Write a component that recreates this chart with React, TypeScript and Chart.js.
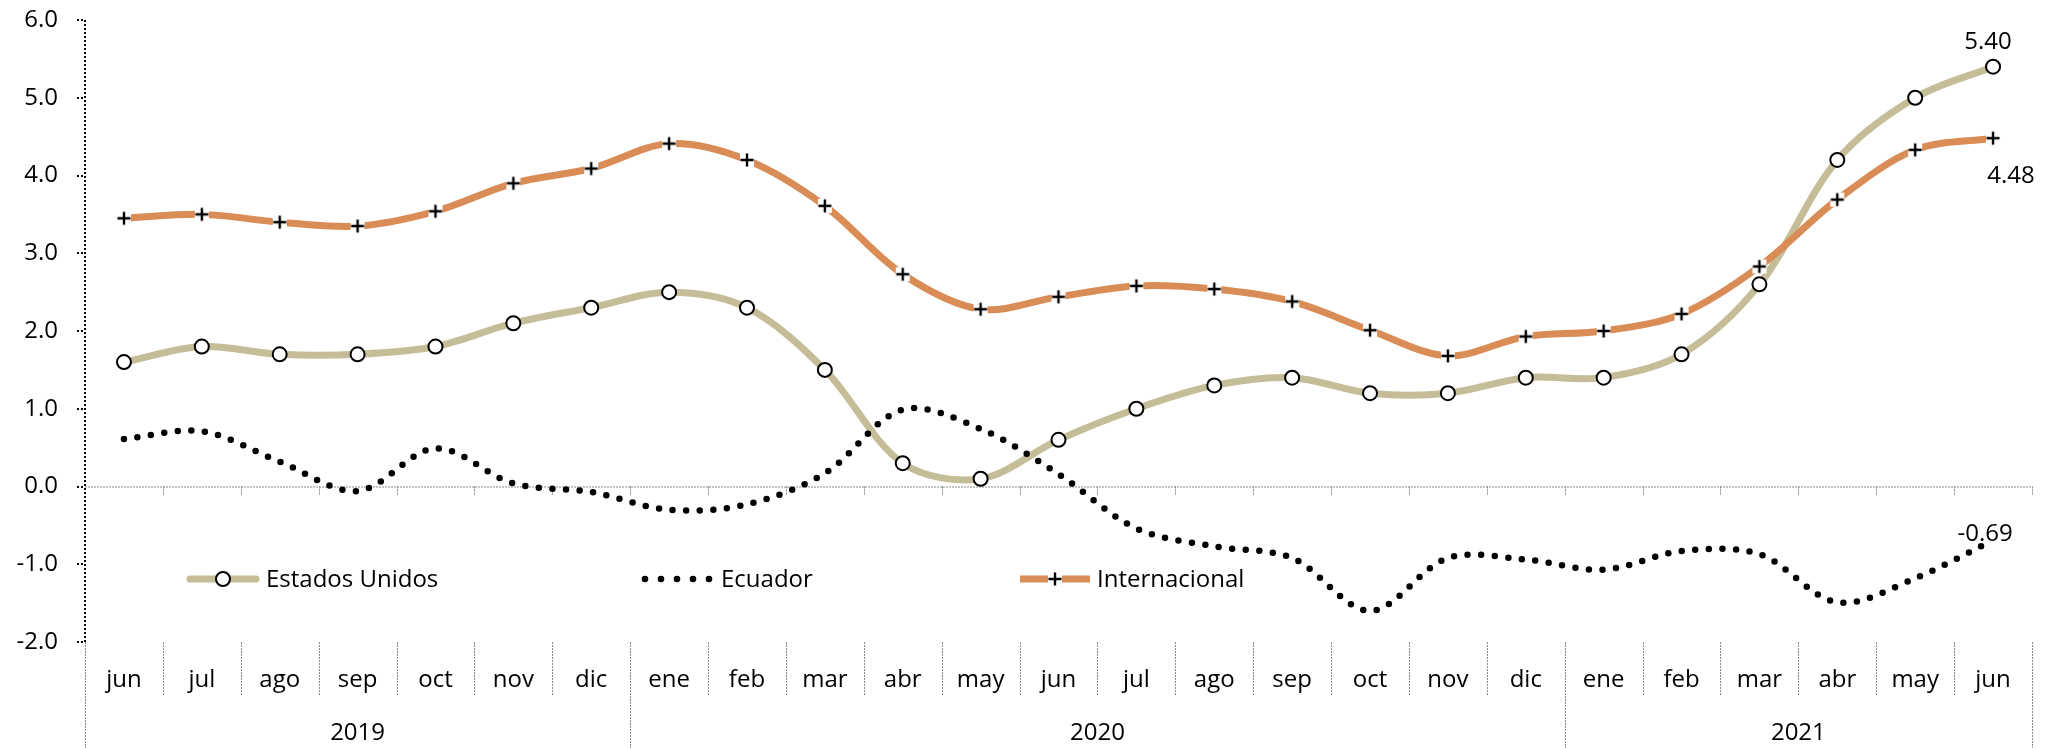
import React, { useEffect, useRef } from 'react';
import { Chart, registerables } from 'chart.js';

Chart.register(...registerables);

// ---- data ----
const months = ['jun', 'jul', 'ago', 'sep', 'oct', 'nov', 'dic', 'ene', 'feb', 'mar', 'abr', 'may', 'jun', 'jul', 'ago', 'sep', 'oct', 'nov', 'dic', 'ene', 'feb', 'mar', 'abr', 'may', 'jun'];
const yearLabels = ['2019', '2020', '2021'];
const yearStarts = [0, 7, 19];
const yearEnds = [7, 19, 25];

const usValues = [1.6, 1.8, 1.7, 1.7, 1.8, 2.1, 2.3, 2.5, 2.3, 1.5, 0.3, 0.1, 0.6, 1.0, 1.3, 1.4, 1.2, 1.2, 1.4, 1.4, 1.7, 2.6, 4.2, 5.0, 5.4];
const ecuadorValues = [0.61, 0.71, 0.32, -0.06, 0.49, 0.04, -0.07, -0.3, -0.23, 0.17, 0.99, 0.74, 0.16, -0.54, -0.77, -0.92, -1.6, -0.92, -0.94, -1.07, -0.83, -0.87, -1.49, -1.18, -0.69];
const intlValues = [3.45, 3.5, 3.4, 3.35, 3.54, 3.9, 4.09, 4.41, 4.2, 3.61, 2.73, 2.28, 2.44, 2.58, 2.54, 2.38, 2.01, 1.68, 1.93, 2.0, 2.22, 2.83, 3.69, 4.33, 4.48];

const seriesNames = ['Estados Unidos', 'Ecuador', 'Internacional'];
const endLabels = ['5.40', '-0.69', '4.48'];

const yMin = -2;
const yMax = 6;
const yStep = 1;

// ---- styles ----
const FONT = "'Open Sans', sans-serif";
const FONT_SIZE = 24;
const US_COLOR = '#C4BD97';
const INTL_COLOR = '#D98C56';
const GRID_GRAY = '#8a8a8a';
const PLOT_TOP = 20;

function makeCross(): HTMLCanvasElement {
  const c = document.createElement('canvas');
  c.width = 16;
  c.height = 16;
  const g = c.getContext('2d')!;
  g.fillStyle = '#ffffff';
  g.fillRect(1, 1, 14, 14);
  g.strokeStyle = '#000000';
  g.lineWidth = 2.4;
  g.beginPath();
  g.moveTo(8, 1.5);
  g.lineTo(8, 14.5);
  g.moveTo(1.5, 8);
  g.lineTo(14.5, 8);
  g.stroke();
  return c;
}

function seg(ctx: CanvasRenderingContext2D, x1: number, y1: number, x2: number, y2: number) {
  ctx.beginPath();
  ctx.moveTo(x1, y1);
  ctx.lineTo(x2, y2);
  ctx.stroke();
}

export default function App() {
  const ref = useRef<HTMLCanvasElement | null>(null);

  useEffect(() => {
    if (!ref.current) return;
    const cross = makeCross();

    const framePlugin = {
      id: 'frame',
      beforeDatasetsDraw(chart: any) {
        const { ctx, chartArea: a, scales } = chart;
        const x = scales.x;
        const y = scales.y;
        const n = months.length;
        const step = x.getPixelForValue(1) - x.getPixelForValue(0);
        const y0 = y.getPixelForValue(0);
        const H = chart.height;
        ctx.save();
        // zero line
        ctx.strokeStyle = GRID_GRAY;
        ctx.lineWidth = 1;
        ctx.setLineDash([2, 1]);
        seg(ctx, a.left, y0 + 0.5, a.right, y0 + 0.5);
        for (let k = 1; k <= n; k++) {
          const bx = Math.round(x.getPixelForValue(k) - step / 2) + 0.5;
          seg(ctx, bx, y0, bx, y0 + 8);
        }
        // category separators
        for (let k = 0; k <= n; k++) {
          const bx = Math.round(x.getPixelForValue(k) - step / 2) + 0.5;
          const isYear = yearStarts.includes(k) || k === n;
          seg(ctx, bx, a.bottom, bx, isYear ? H : a.bottom + 53);
        }
        // y axis
        ctx.strokeStyle = '#000000';
        ctx.lineWidth = 2;
        ctx.setLineDash([2, 2]);
        seg(ctx, a.left, a.top, a.left, a.bottom);
        for (let v = yMin; v <= yMax; v += yStep) {
          const yy = Math.round(y.getPixelForValue(v));
          seg(ctx, a.left - 8, yy, a.left, yy);
        }
        ctx.restore();
      },
      afterDraw(chart: any) {
        const { ctx, chartArea: a, scales } = chart;
        const x = scales.x;
        const y = scales.y;
        ctx.save();
        ctx.fillStyle = '#000000';
        ctx.font = `${FONT_SIZE}px ${FONT}`;
        ctx.textAlign = 'center';
        ctx.textBaseline = 'alphabetic';
        months.forEach((m, i) => {
          ctx.fillText(m, x.getPixelForValue(i), a.bottom + 45);
        });
        yearLabels.forEach((lab, i) => {
          const cx = (x.getPixelForValue(yearStarts[i]) + x.getPixelForValue(yearEnds[i] - 1)) / 2;
          ctx.fillText(lab, cx, a.bottom + 98);
        });

        // end labels
        const last = months.length - 1;
        const px = x.getPixelForValue(last);
        ctx.fillText(endLabels[0], px - 5, y.getPixelForValue(usValues[last]) - 18);
        ctx.fillText(endLabels[1], px - 8, y.getPixelForValue(ecuadorValues[last]) + 1);
        ctx.fillText(endLabels[2], px + 18, y.getPixelForValue(intlValues[last]) + 45);

        // legend
        const ly = 579;
        ctx.textAlign = 'left';
        ctx.lineCap = 'round';
        ctx.strokeStyle = US_COLOR;
        ctx.lineWidth = 7;
        seg(ctx, 190, ly, 256, ly);
        ctx.beginPath();
        ctx.arc(223, ly, 7, 0, Math.PI * 2);
        ctx.fillStyle = '#ffffff';
        ctx.fill();
        ctx.lineWidth = 2;
        ctx.strokeStyle = '#000000';
        ctx.stroke();
        ctx.fillStyle = '#000000';
        ctx.fillText(seriesNames[0], 266, ly + 8);
        for (let i = 0; i < 5; i++) {
          ctx.beginPath();
          ctx.arc(645 + i * 16, ly, 3.3, 0, Math.PI * 2);
          ctx.fill();
        }
        ctx.fillText(seriesNames[1], 721, ly + 8);
        ctx.lineCap = 'butt';
        ctx.strokeStyle = INTL_COLOR;
        ctx.lineWidth = 7;
        seg(ctx, 1020, ly, 1090, ly);
        ctx.drawImage(cross, 1055 - 8, ly - 8);
        ctx.fillText(seriesNames[2], 1097, ly + 8);
        ctx.restore();
      },
    };

    const chart = new Chart(ref.current, {
      type: 'line',
      data: {
        labels: months,
        datasets: [
          {
            label: seriesNames[0],
            data: usValues,
            borderColor: US_COLOR,
            borderWidth: 7,
            tension: 0.33,
            pointStyle: 'circle',
            pointRadius: 7,
            pointBorderWidth: 2,
            pointBorderColor: '#000000',
            pointBackgroundColor: '#ffffff',
            order: 3,
          },
          {
            label: seriesNames[1],
            data: ecuadorValues,
            borderColor: '#000000',
            borderWidth: 6.5,
            borderDash: [0, 13.6],
            borderCapStyle: 'round',
            tension: 0.33,
            pointRadius: 0,
            order: 2,
          },
          {
            label: seriesNames[2],
            data: intlValues,
            borderColor: INTL_COLOR,
            borderWidth: 7,
            tension: 0.33,
            pointStyle: cross as any,
            pointRadius: 8,
            order: 1,
          },
        ],
      },
      options: {
        responsive: false,
        animation: false,
        layout: { padding: { left: 0, right: 21, top: 0, bottom: 106 } },
        plugins: {
          legend: { display: false },
          tooltip: { enabled: false },
        },
        scales: {
          x: { display: false, offset: true },
          y: {
            min: yMin,
            max: yMax,
            ticks: {
              stepSize: yStep,
              callback: (v: any) => Number(v).toFixed(1),
              font: { family: FONT, size: FONT_SIZE },
              color: '#000000',
              padding: 27,
            },
            grid: { display: false, drawTicks: false },
            border: { display: false },
            afterFit: (s: any) => {
              s.width = 85;
              s.paddingTop = PLOT_TOP;
            },
          },
        },
      },
      plugins: [framePlugin],
    } as any);

    return () => chart.destroy();
  }, []);

  return (
    <div style={{ position: 'absolute', left: 0, top: 0, width: 2053, height: 748, background: '#fff' }}>
      <canvas ref={ref} width={2053} height={748} style={{ display: 'block' }} />
    </div>
  );
}
